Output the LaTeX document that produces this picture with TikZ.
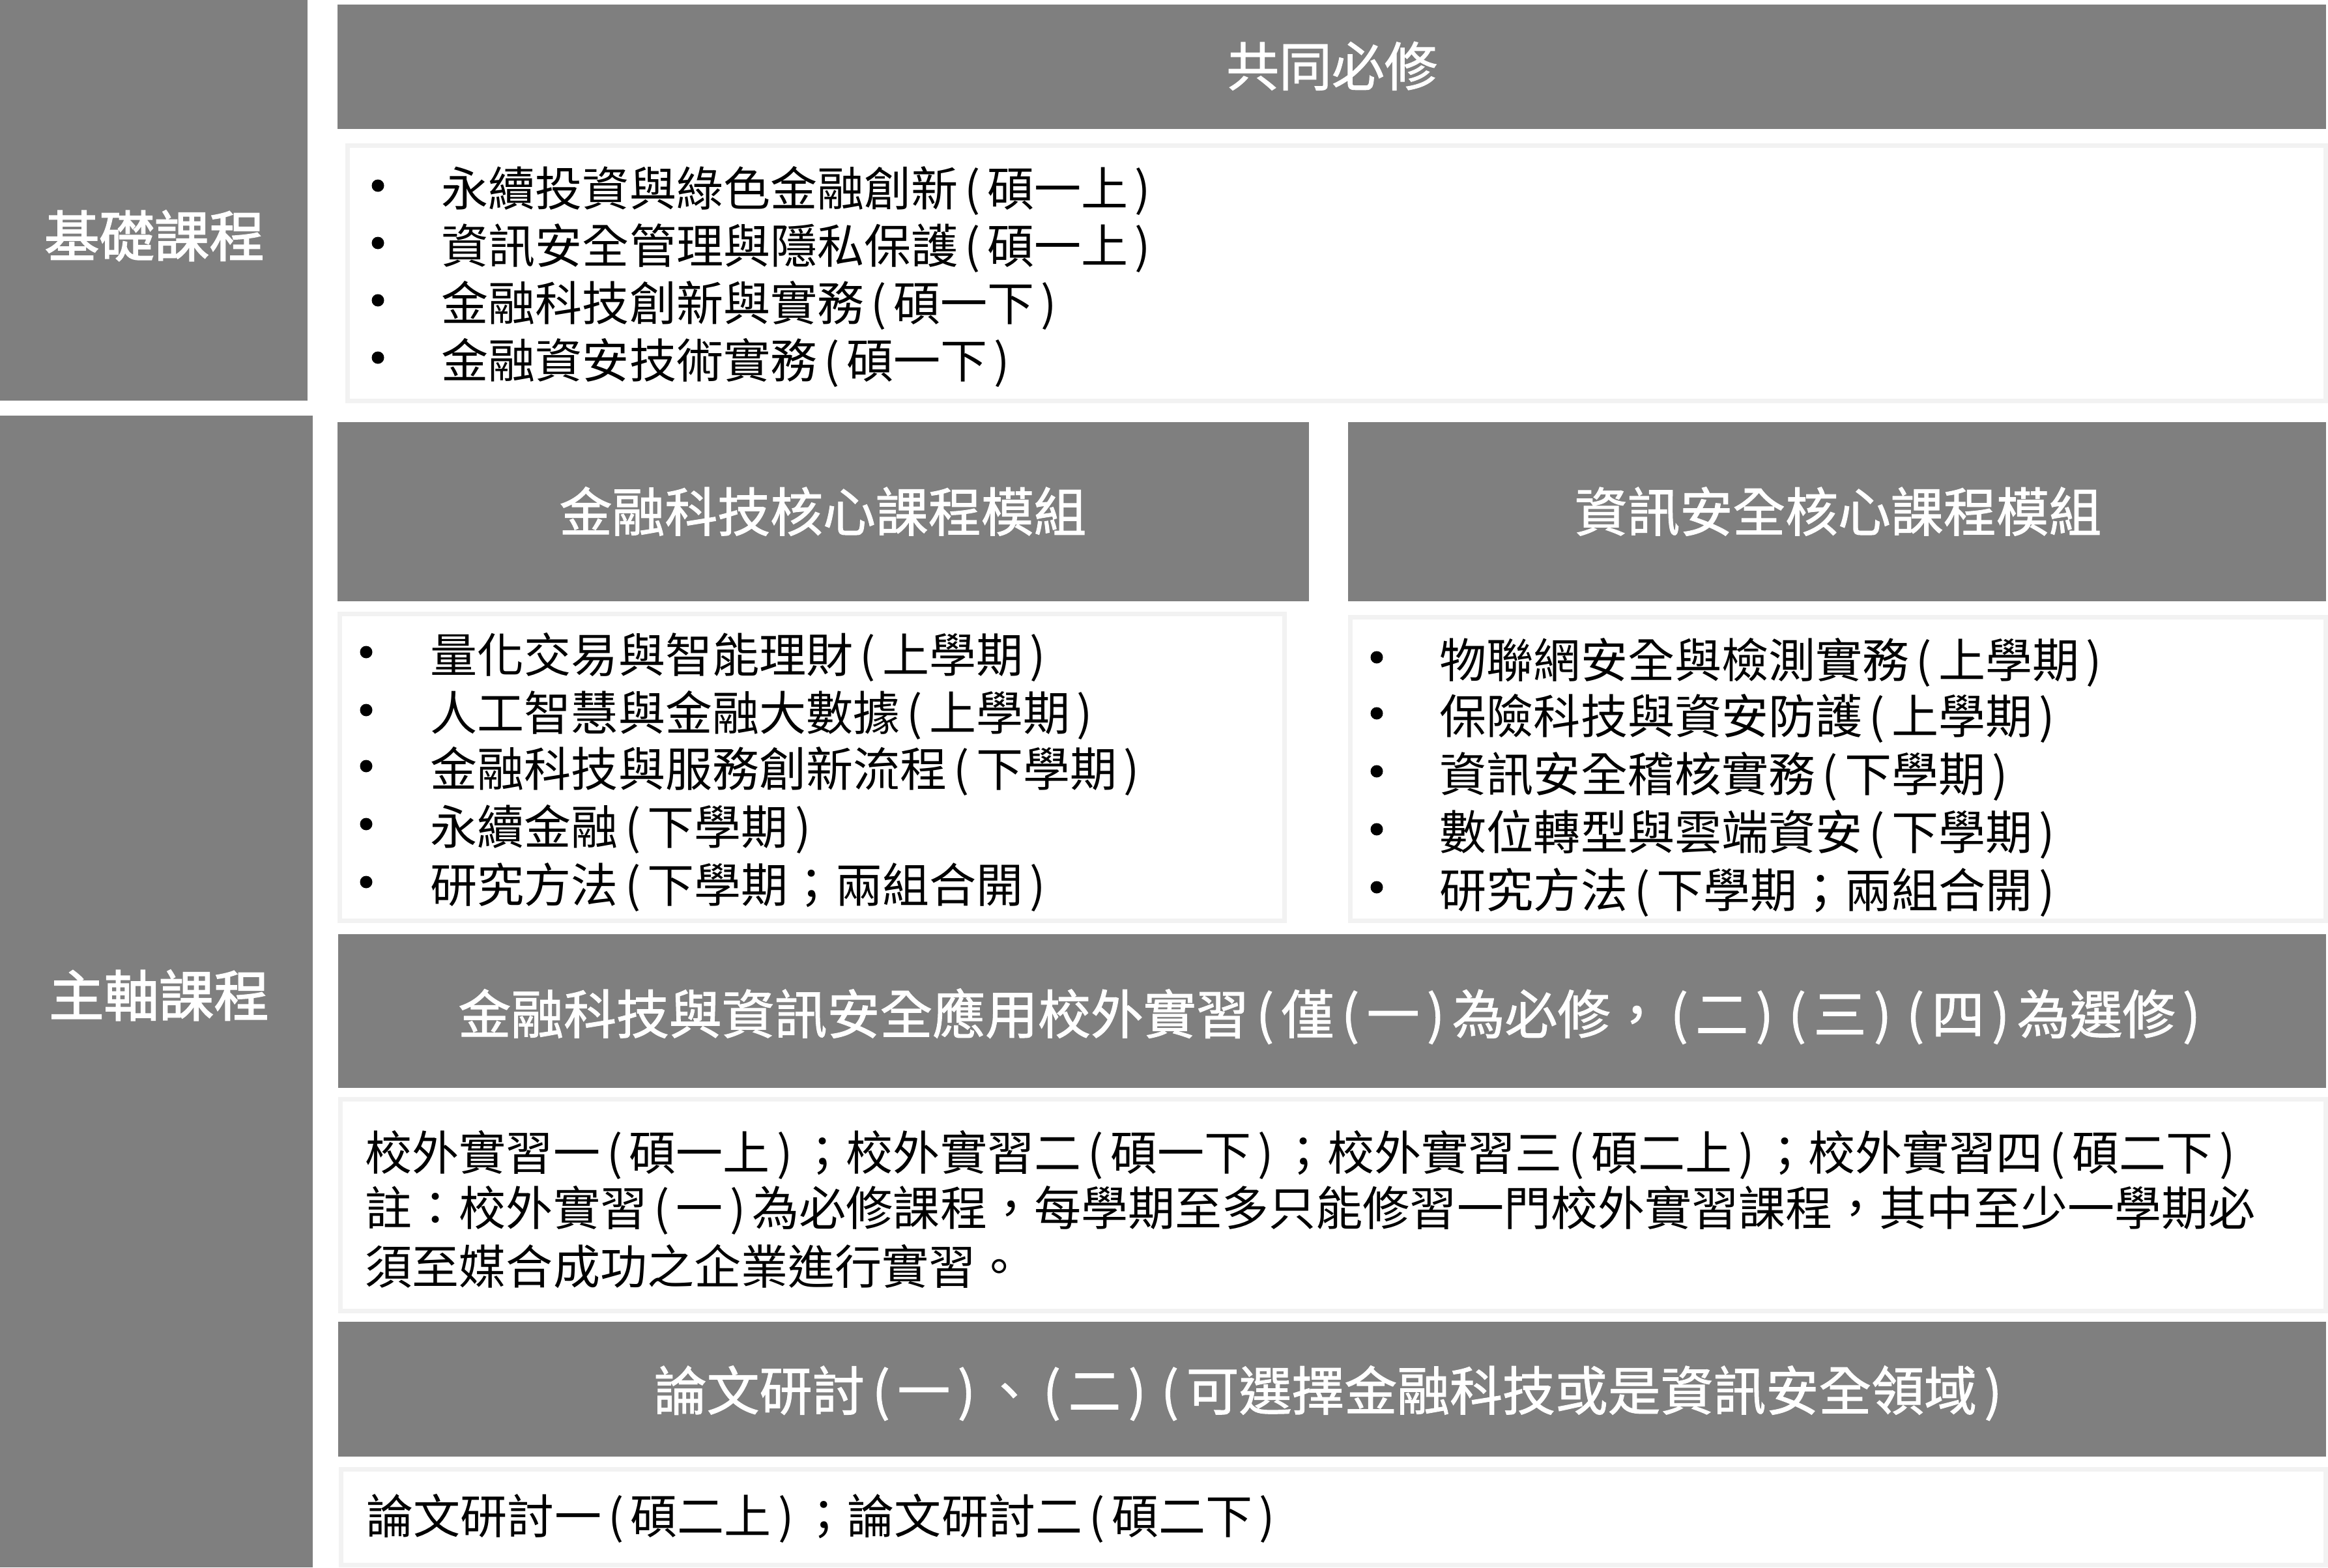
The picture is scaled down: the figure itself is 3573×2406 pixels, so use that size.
\documentclass[tikz,border=0pt]{standalone}
\usepackage{fontspec}
\setmainfont{Noto Sans CJK TC}
\newfontfamily\hdrfont[FakeBold=1.3]{Noto Sans CJK TC}
\newfontfamily\sidefont[FakeBold=2]{Noto Sans CJK TC}
\definecolor{hdrgray}{RGB}{127,127,127}
\definecolor{boxline}{RGB}{242,242,242}
\newcommand\Lpar{\makebox[0.62em]{(}}
\newcommand\Rpar{\makebox[0.62em]{)}}
\tikzset{
  hdr/.style={fill=hdrgray, draw=none},
  listbox/.style={draw=boxline, line width=1.99pt, fill=white},
  hdrtext/.style={text=white, font=\hdrfont\fontsize{23}{27}\selectfont, anchor=base, inner sep=0pt},
  sidetext/.style={text=white, font=\sidefont\fontsize{24}{28}\selectfont, anchor=base, inner sep=0pt},
  bodytext/.style={text=black, font=\fontsize{20.5}{25}\selectfont, anchor=base west, inner sep=0pt},
  dot/.style={fill=black}
}
\begin{document}
\begin{tikzpicture}[x=0.01cm, y=-0.01cm]
\useasboundingbox[fill=white] (0,0) rectangle (3573,2406);
% side columns
\path[hdr] (0,0) rectangle (472,615);
\path[hdr] (0,638) rectangle (480,2406);
\node[sidetext] (side1) at (237,394) {基礎課程};
\node[sidetext] (side2) at (244,1560) {主軸課程};
% common required
\path[hdr] (518,7) rectangle (3570,198);
\node[hdrtext] (h1) at (2044,132) {共同必修};
\path[listbox] (533.5,223.5) rectangle (3569.5,615.5);
\foreach \yy/\txt [count=\i] in {289/{永續投資與綠色金融創新\Lpar{}碩一上\Rpar{}},
  377/{資訊安全管理與隱私保護\Lpar{}碩一上\Rpar{}},
  465/{金融科技創新與實務\Lpar{}碩一下\Rpar{}},
  553/{金融資安技術實務\Lpar{}碩一下\Rpar{}}}{
  \fill[dot] (580,\yy-4) circle (9.5);
  \node[bodytext] (b\i) at (677,\yy+27) {\txt};
}
% fintech module
\path[hdr] (518,648) rectangle (2009,923);
\node[hdrtext] (h2) at (1263,816) {金融科技核心課程模組};
\path[listbox] (521.5,942.5) rectangle (1971.5,1413.5);
\foreach \yy/\txt [count=\i] in {1005/{量化交易與智能理財\Lpar{}上學期\Rpar{}},
  1094/{人工智慧與金融大數據\Lpar{}上學期\Rpar{}},
  1180/{金融科技與服務創新流程\Lpar{}下學期\Rpar{}},
  1269/{永續金融\Lpar{}下學期\Rpar{}},
  1358/{研究方法\Lpar{}下學期；兩組合開\Rpar{}}}{
  \fill[dot] (562,\yy-4) circle (9.5);
  \node[bodytext] (f\i) at (660,\yy+27) {\txt};
}
% infosec module
\path[hdr] (2069,648) rectangle (3570,923);
\node[hdrtext] (h3) at (2821,816) {資訊安全核心課程模組};
\path[listbox] (2072.5,947.5) rectangle (3569.5,1413.5);
\foreach \yy/\txt [count=\i] in {1013/{物聯網安全與檢測實務\Lpar{}上學期\Rpar{}},
  1099/{保險科技與資安防護\Lpar{}上學期\Rpar{}},
  1188/{資訊安全稽核實務\Lpar{}下學期\Rpar{}},
  1277/{數位轉型與雲端資安\Lpar{}下學期\Rpar{}},
  1366/{研究方法\Lpar{}下學期；兩組合開\Rpar{}}}{
  \fill[dot] (2113,\yy-4) circle (9.5);
  \node[bodytext] (s\i) at (2209,\yy+27) {\txt};
}
% internship
\path[hdr] (519,1434) rectangle (3570,1670);
\node[hdrtext] (h4) at (2046,1587) {金融科技與資訊安全應用校外實習\Lpar{}僅\Lpar{}一\Rpar{}為必修，\Lpar{}二\Rpar{}\Lpar{}三\Rpar{}\Lpar{}四\Rpar{}為選修\Rpar{}};
\path[listbox] (522.5,1687.5) rectangle (3569.5,2012.5);
\node[bodytext] (i1) at (560,1796) {校外實習一\Lpar{}碩一上\Rpar{}；校外實習二\Lpar{}碩一下\Rpar{}；校外實習三\Lpar{}碩二上\Rpar{}；校外實習四\Lpar{}碩二下\Rpar{}};
\node[bodytext] (i2) at (560,1881) {註：校外實習\Lpar{}一\Rpar{}為必修課程，每學期至多只能修習一門校外實習課程，其中至少一學期必};
\node[bodytext] (i3) at (560,1971) {須至媒合成功之企業進行實習。};
% thesis
\path[hdr] (519,2029) rectangle (3570,2236);
\node[hdrtext] (h5) at (2044,2165) {論文研討\Lpar{}一\Rpar{}、\Lpar{}二\Rpar{}\Lpar{}可選擇金融科技或是資訊安全領域\Rpar{}};
\path[listbox] (523.5,2255.5) rectangle (3569.5,2402.5);
\node[bodytext] (t1) at (562,2354) {論文研討一\Lpar{}碩二上\Rpar{}；論文研討二\Lpar{}碩二下\Rpar{}};
\end{tikzpicture}
\end{document}
